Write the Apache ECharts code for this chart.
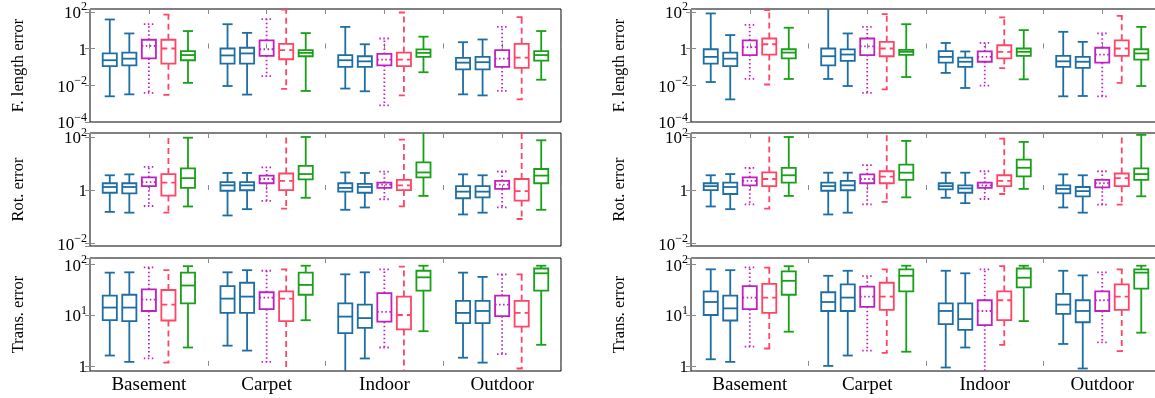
<!DOCTYPE html>
<html>
<head>
<meta charset="utf-8">
<script src="https://cdn.jsdelivr.net/npm/echarts@6/dist/echarts.min.js"></script>
<style>
html, body { margin: 0; padding: 0; background: #fff; }
#chart { width: 1155px; height: 398px; }
</style>
</head>
<body>
<div id="chart"></div>
<script>
// 类别与行标题
var categories = ['Basement', 'Carpet', 'Indoor', 'Outdoor'];
var rowTitles = ['F. length error', 'Rot. error', 'Trans. error'];
// 纵轴范围 (log10)
var rowMinExp = [-4, -2.11, -0.1];
var rowMaxExp = [2.15, 2.15, 2.12];

// 每个箱子: [min, q1, median, q3, max]
// 左列 F. length
var flL_b1 = [[0.0025, 0.11, 0.23, 0.54, 38], [0.0091, 0.15, 0.42, 1.0, 21], [0.0066, 0.1, 0.23, 0.44, 15], [0.0032, 0.074, 0.17, 0.31, 2.2]];
var flL_b2 = [[0.0032, 0.12, 0.28, 0.6, 6.6], [0.0031, 0.15, 0.54, 1.1, 7.1], [0.0047, 0.1, 0.2, 0.38, 1.7], [0.0028, 0.074, 0.18, 0.35, 3.1]];
var flL_p = [[0.0038, 0.29, 1.4, 3.0, 21], [0.031, 0.4, 0.91, 2.8, 40], [0.00081, 0.12, 0.25, 0.51, 3.5], [0.0049, 0.1, 0.28, 0.81, 15]];
var flL_r = [[0.003, 0.15, 1.0, 3.0, 69], [0.0063, 0.26, 0.81, 1.8, 130], [0.0028, 0.11, 0.25, 0.6, 91], [0.0017, 0.089, 0.32, 1.8, 51]];
var flL_g = [[0.0135, 0.23, 0.44, 0.72, 8.9], [0.0049, 0.38, 0.58, 0.81, 6.9], [0.051, 0.35, 0.58, 0.89, 4.4], [0.02, 0.22, 0.44, 0.72, 8.9]];
// 左列 Rot.
var rotL_b1 = [[0.15, 0.79, 1.3, 1.8, 3.6], [0.11, 0.94, 1.5, 2.0, 4.4], [0.18, 0.87, 1.2, 1.8, 4.6], [0.12, 0.49, 0.87, 1.4, 3.9]];
var rotL_b2 = [[0.14, 0.75, 1.3, 1.8, 3.9], [0.19, 0.98, 1.5, 2.0, 4.4], [0.22, 0.79, 1.3, 1.7, 4.4], [0.14, 0.53, 0.87, 1.4, 3.6]];
var rotL_p = [[0.25, 1.4, 2.0, 3.0, 7.5], [0.39, 1.8, 2.6, 3.5, 7.1], [0.45, 1.2, 1.6, 1.9, 4.9], [0.22, 1.1, 1.6, 2.2, 5.0]];
var rotL_r = [[0.14, 0.62, 1.9, 4.0, 200], [0.2, 1.0, 2.2, 4.2, 200], [0.24, 1.0, 1.5, 2.4, 79], [0.081, 0.4, 0.91, 2.6, 200]];
var rotL_g = [[0.24, 1.2, 2.8, 6.5, 94], [0.51, 2.5, 4.0, 8.1, 100], [0.6, 3.0, 4.6, 11, 200], [0.18, 1.8, 3.5, 6.2, 75]];
// 左列 Trans.
var trL_b1 = [[1.6, 7.9, 14, 24, 68], [2.5, 11, 21, 37, 69], [0.6, 4.4, 9.3, 17, 63], [1.45, 6.9, 11, 19, 68]];
var trL_b2 = [[1.2, 7.6, 14, 25, 69], [2.0, 11, 23, 43, 76], [1.4, 5.6, 8.7, 16, 69], [1.16, 6.9, 12, 19, 56]];
var trL_p = [[1.4, 12, 20, 32, 86], [1.2, 13, 22, 28, 74], [2.3, 7.4, 11.5, 27, 79], [1.7, 9.5, 16, 24, 63]];
var trL_r = [[1.16, 7.8, 16, 31, 76], [0.6, 7.6, 21, 29, 79], [0.6, 5.2, 10, 23, 89], [0.89, 5.9, 11, 19, 63]];
var trL_g = [[2.3, 17, 38, 68, 91], [7.9, 25, 39, 68, 93], [4.8, 30, 55, 74, 93], [2.6, 30, 66, 82, 93]];
// 右列 F. length
var flR_b1 = [[0.015, 0.15, 0.35, 0.91, 81], [0.022, 0.12, 0.38, 1.0, 200], [0.047, 0.17, 0.35, 0.72, 2.0], [0.0025, 0.1, 0.2, 0.4, 8.1]];
var flR_b2 = [[0.0017, 0.11, 0.28, 0.6, 5.4], [0.0091, 0.21, 0.47, 0.89, 6.6], [0.0071, 0.1, 0.19, 0.32, 0.69], [0.0026, 0.089, 0.19, 0.35, 2.3]];
var flR_p = [[0.022, 0.44, 1.2, 2.8, 19.5], [0.0038, 0.44, 1.3, 3.5, 15], [0.0095, 0.19, 0.35, 0.69, 2.0], [0.0025, 0.17, 0.47, 1.1, 6.6]];
var flR_r = [[0.011, 0.47, 1.7, 3.5, 123], [0.006, 0.38, 1.0, 2.3, 74], [0.085, 0.29, 0.66, 1.5, 49], [0.0135, 0.4, 1.0, 2.8, 60]];
var flR_g = [[0.022, 0.29, 0.6, 0.91, 13.5], [0.028, 0.45, 0.66, 0.85, 21], [0.021, 0.4, 0.66, 1.0, 10], [0.0091, 0.25, 0.54, 0.91, 15]];
// 右列 Rot.
var rotR_b1 = [[0.24, 1.0, 1.4, 1.8, 3.6], [0.12, 0.94, 1.4, 1.9, 4.5], [0.51, 1.06, 1.4, 1.8, 4.5], [0.22, 0.75, 1.1, 1.5, 3.9]];
var rotR_b2 = [[0.19, 0.71, 1.3, 1.9, 4.0], [0.14, 0.98, 1.5, 2.2, 4.5], [0.32, 0.79, 1.15, 1.5, 4.5], [0.14, 0.58, 0.91, 1.3, 3.6]];
var rotR_p = [[0.29, 1.5, 2.2, 3.0, 6.9], [0.29, 1.8, 2.6, 3.9, 8.7], [0.46, 1.2, 1.5, 1.9, 5.1], [0.28, 1.26, 1.8, 2.4, 5.1]];
var rotR_r = [[0.2, 1.4, 2.6, 4.6, 200], [0.36, 1.8, 3.2, 5.1, 200], [0.71, 1.4, 2.2, 3.6, 87], [0.28, 1.4, 2.8, 4.2, 200]];
var rotR_g = [[0.6, 1.9, 3.6, 6.9, 100], [0.53, 2.4, 4.5, 9.1, 71], [1.1, 3.3, 6.9, 14, 65], [0.58, 2.4, 4.0, 6.5, 120]];
// 右列 Trans.
var trR_b1 = [[1.35, 10, 18, 29, 79], [1.0, 12, 18, 28, 59], [0.93, 6.6, 12, 17, 74], [2.7, 10.5, 16, 26, 74]];
var trR_b2 = [[1.2, 7.8, 13.5, 24, 76], [1.6, 12, 22, 40, 74], [2.3, 5.1, 8.3, 17, 66], [0.89, 7.2, 12, 19.5, 60]];
var trR_p = [[2.4, 13, 22, 37, 86], [2.0, 14.5, 23, 36, 58], [0.6, 6.3, 12, 19.5, 79], [2.9, 12, 19.5, 29, 69]];
var trR_r = [[2.2, 11, 22, 41, 85], [1.8, 12.6, 23, 43, 79], [2.6, 7.9, 19.5, 29, 91], [1.95, 12.6, 23, 40, 79]];
var trR_g = [[4.7, 25, 47, 72, 91], [1.9, 29, 59, 79, 93], [7.6, 35, 54, 82, 93], [4.5, 33, 68, 79, 93]];

// 面板顺序: 左列三行, 右列三行
var panels = [
    [flL_b1, flL_b2, flL_p, flL_r, flL_g],
    [rotL_b1, rotL_b2, rotL_p, rotL_r, rotL_g],
    [trL_b1, trL_b2, trL_p, trL_r, trL_g],
    [flR_b1, flR_b2, flR_p, flR_r, flR_g],
    [rotR_b1, rotR_b2, rotR_p, rotR_r, rotR_g],
    [trR_b1, trR_b2, trR_p, trR_r, trR_g]
];

var boxStyles = [
    { color: '#1c6ea4', dash: null },
    { color: '#1c6ea4', dash: null },
    { color: '#c020c0', dash: [1.5, 2.5] },
    { color: '#ff4466', dash: [6, 4] },
    { color: '#18a018', dash: null }
];

var serif = 'Liberation Serif';
var tickColor = '#8a8a8a';

function makeRender(k) {
    var st = boxStyles[k];
    return function (params, api) {
        var c = api.value(0);
        var band = api.size([1, 0])[0];
        var x = api.coord([c, 0])[0] + (k - 2) * band * 0.166;
        var yMin = api.coord([c, api.value(1)])[1];
        var yQ1 = api.coord([c, api.value(2)])[1];
        var yMed = api.coord([c, api.value(3)])[1];
        var yQ3 = api.coord([c, api.value(4)])[1];
        var yMax = api.coord([c, api.value(5)])[1];
        var hw = band * 0.06, cw = band * 0.043;
        var lw = 1.8;
        var ls = { stroke: st.color, lineWidth: lw, lineDash: st.dash, fill: null };
        return {
            type: 'group',
            children: [
                { type: 'line', shape: { x1: x, y1: yQ1, x2: x, y2: yMin }, style: ls },
                { type: 'line', shape: { x1: x, y1: yQ3, x2: x, y2: yMax }, style: ls },
                { type: 'line', shape: { x1: x - cw, y1: yMin, x2: x + cw, y2: yMin }, style: ls },
                { type: 'line', shape: { x1: x - cw, y1: yMax, x2: x + cw, y2: yMax }, style: ls },
                { type: 'rect', shape: { x: x - hw, y: yQ3, width: 2 * hw, height: yQ1 - yQ3 },
                  style: { stroke: st.color, lineWidth: lw, fill: 'rgba(0,0,0,0)' } },
                { type: 'line', shape: { x1: x - hw, y1: yMed, x2: x + hw, y2: yMed }, style: ls }
            ]
        };
    };
}

function boxes(arr) {
    return arr.map(function (b, i) {
        return [i].concat(b.map(function (v) { return Math.log10(v); }));
    });
}

function expLabel(v) {
    if (Math.abs(v - Math.round(v)) > 1e-6) return '';
    var n = Math.round(v);
    if (n === 0) return '{b|1}';
    return '{b|10}{s|' + (n < 0 ? '\u2212' : '') + Math.abs(n) + '}';
}

var myChart = echarts.init(document.getElementById('chart'));
var grids = [], xAxes = [], yAxes = [], series = [];
var rowTops = [9, 133, 258];

for (var g = 0; g < 6; g++) {
    var col = Math.floor(g / 3), row = g % 3;
    grids.push({
        left: col ? 691 : 90, width: col ? 470 : 471,
        top: rowTops[row], height: 113,
        show: true, borderColor: '#000', borderWidth: 1,
        outerBoundsMode: 'none', containLabel: false
    });
    xAxes.push({
        type: 'category', gridIndex: g, data: categories, position: 'bottom',
        axisLine: { show: false }, axisTick: { show: false }, splitLine: { show: false },
        axisLabel: { show: row === 2, margin: 5, fontSize: 19, fontFamily: serif, color: '#000' }
    });
    ['bottom', 'top'].forEach(function (pos) {
        xAxes.push({
            type: 'value', gridIndex: g, position: pos, min: 0, max: 4,
            interval: row === 2 ? 1 : 0.5,
            axisLine: { show: false }, splitLine: { show: false }, axisLabel: { show: false },
            axisTick: { show: true, inside: true, length: 5, lineStyle: { color: tickColor, width: 1 } }
        });
    });
    var yBase = {
        type: 'value', gridIndex: g,
        min: rowMinExp[row], max: rowMaxExp[row],
        axisLine: { show: false }, splitLine: { show: false },
        axisTick: { show: true, inside: true, length: 5, lineStyle: { color: tickColor, width: 1 } }
    };
    if (row === 0) { yBase.interval = 2; } else { yBase.splitNumber = 2; }
    yAxes.push(Object.assign({}, yBase, {
        position: 'left',
        name: rowTitles[row], nameLocation: 'middle', nameGap: 63, nameRotate: 90,
        nameTextStyle: { fontSize: 16.5, fontFamily: serif, color: '#000' },
        axisLabel: {
            show: true, margin: 3, formatter: expLabel,
            fontSize: 17, fontFamily: serif, color: '#000',
            rich: {
                b: { fontSize: 17, fontFamily: serif, color: '#000', lineHeight: 21, verticalAlign: 'bottom' },
                s: { fontSize: 12, fontFamily: serif, color: '#000', lineHeight: 12, verticalAlign: 'top' }
            }
        }
    }));
    yAxes.push(Object.assign({}, yBase, { position: 'right', axisLabel: { show: false } }));

    for (var k = 0; k < 5; k++) {
        series.push({
            type: 'custom', name: 'm' + (k + 1),
            xAxisIndex: 3 * g, yAxisIndex: 2 * g,
            renderItem: makeRender(k),
            encode: { x: 0, y: [1, 2, 3, 4, 5] },
            clip: true, silent: true,
            data: boxes(panels[g][k])
        });
    }
}

var option = {
    backgroundColor: '#fff',
    animation: false,
    grid: grids,
    xAxis: xAxes,
    yAxis: yAxes,
    series: series
};
myChart.setOption(option);
window.addEventListener('resize', function () {
    myChart.resize();
});
</script>
</body>
</html>
